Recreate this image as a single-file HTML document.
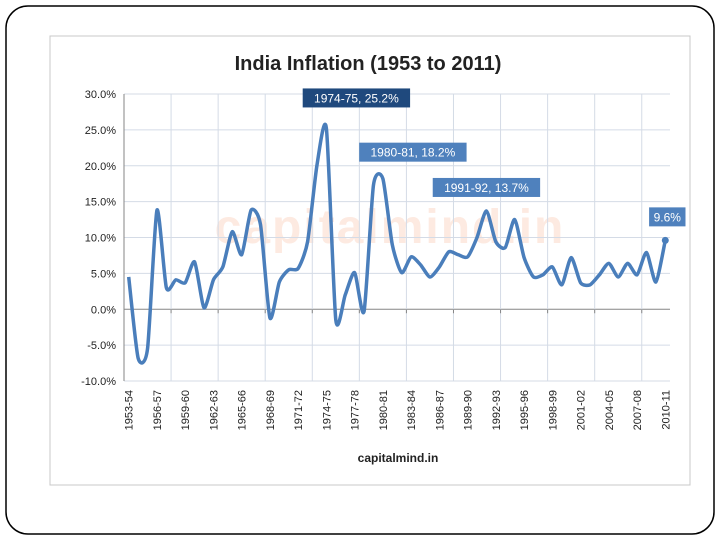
<!DOCTYPE html>
<html><head><meta charset="utf-8"><style>
body{margin:0;background:#fff;width:720px;height:540px;overflow:hidden;font-family:"Liberation Sans",sans-serif}
</style></head><body>
<svg id="c" width="720" height="540" xmlns="http://www.w3.org/2000/svg">
<rect x="6" y="6" width="708" height="528" rx="22" fill="#fff" stroke="#000" stroke-width="1.5"/>
<rect x="50" y="36" width="640" height="449" fill="#fff" stroke="#c8c8c8"/>
<text x="368" y="70" text-anchor="middle" font-size="20" font-weight="bold" fill="#222">India Inflation (1953 to 2011)</text>
<text x="390" y="243" text-anchor="middle" font-size="48" font-weight="bold" fill="#fdeae1" letter-spacing="2">capitalmind.in</text>
<g id="grid"></g><g id="axes"></g><g id="series"></g><g id="labels"></g>
<text x="398" y="462" text-anchor="middle" font-size="12" font-weight="bold" fill="#222">capitalmind.in</text>
</svg>
<script>
const years=[];for(let y=1953;y<=2010;y++)years.push(y+'-'+String((y+1)%100).padStart(2,'0'));
const values=[4.5,-6.8,-5.5,13.8,3.0,4.1,3.7,6.6,0.2,4.1,5.9,10.8,7.6,13.8,11.8,-1.2,3.8,5.5,5.7,9.4,20.1,25.2,-1.5,2.0,5.1,-0.3,17.3,18.2,9.0,5.1,7.3,6.2,4.5,5.9,8.0,7.6,7.3,10.0,13.7,9.4,8.6,12.5,7.2,4.5,4.8,5.9,3.4,7.2,3.7,3.4,4.8,6.4,4.5,6.4,4.8,7.9,3.8,9.6];
const yTicks=[-10,-5,0,5,10,15,20,25,30];
const callouts=[{i:21,text:'1974-75, 25.2%',dark:true},{i:27,text:'1980-81, 18.2%'},{i:38,text:'1991-92, 13.7%'},{i:57,text:'9.6%'}];
const NS='http://www.w3.org/2000/svg';
const L=124,R=670,T=94,B=381,ymin=-10,ymax=30;
const bw=(R-L)/years.length;
const X=i=>L+(i+0.5)*bw;
const Y=v=>B-(v-ymin)/(ymax-ymin)*(B-T);
function mk(tag,attrs,parent){const e=document.createElementNS(NS,tag);for(const k in attrs)e.setAttribute(k,attrs[k]);parent.appendChild(e);return e;}
const grid=document.getElementById('grid'),axes=document.getElementById('axes'),ser=document.getElementById('series'),lab=document.getElementById('labels');
yTicks.forEach(t=>{
  const l=mk('line',{x1:L,x2:R,y1:Y(t),y2:Y(t),stroke:t===0?'#868686':'#d4dbe6','stroke-width':1},grid);
  
  
  const tx=mk('text',{x:L-8,y:Y(t)+4,'text-anchor':'end','font-size':11,fill:'#222'},axes);
  tx.textContent=t.toFixed(1)+'%';
  
  
});
for(let i=5;i<years.length;i+=5){
  const l=mk('line',{x1:L+i*bw,x2:L+i*bw,y1:T,y2:B,stroke:'#d4dbe6','stroke-width':1},grid);
  
  
  const tk=mk('line',{x1:L+i*bw,x2:L+i*bw,y1:Y(0),y2:Y(0)+4,stroke:'#868686'},axes);
  
  
}
const ya=mk('line',{x1:L,x2:L,y1:T,y2:B,stroke:'#868686'},axes);


for(let i=0;i<years.length;i+=3){
  const tx=mk('text',{x:0,y:0,'text-anchor':'end','font-size':11,fill:'#222',transform:`translate(${X(i)+4},390) rotate(-90)`},axes);
  tx.textContent=years[i];
  
  
}
const pts=values.map((v,i)=>[X(i),Y(v)]);
let d='M'+pts[0][0]+','+pts[0][1];
const k=9;
for(let i=0;i<pts.length-1;i++){
  const p0=pts[Math.max(0,i-1)],p1=pts[i],p2=pts[i+1],p3=pts[Math.min(pts.length-1,i+2)];
  const c1=[p1[0]+(p2[0]-p0[0])/k,p1[1]+(p2[1]-p0[1])/k],c2=[p2[0]-(p3[0]-p1[0])/k,p2[1]-(p3[1]-p1[1])/k];
  d+=` C${c1[0]},${c1[1]} ${c2[0]},${c2[1]} ${p2[0]},${p2[1]}`;
}
const path=mk('path',{d:d,fill:'none',stroke:'#4A7EBB','stroke-width':3.5,'stroke-linejoin':'round'},ser);


const last=pts[pts.length-1];
const dot=mk('circle',{cx:last[0],cy:last[1],r:3.5,fill:'#4A7EBB'},ser);


const offs=[[30,-21],[30,-17],[0,-14],[2,-14]];
callouts.forEach((c,j)=>{
  const w=c.text.length*7.1+8,h=19;
  const cx=X(c.i)+offs[j][0],cy=Y(values[c.i])+offs[j][1];
  const g=mk('g',{},lab);
  
  
  mk('rect',{x:cx-w/2,y:cy-h,width:w,height:h,fill:c.dark?'#1F497D':'#4F81BD'},g);
  const t=mk('text',{x:cx,y:cy-5,'text-anchor':'middle','font-size':12,fill:'#fff'},g);
  t.textContent=c.text;
});
</script>
</body></html>
